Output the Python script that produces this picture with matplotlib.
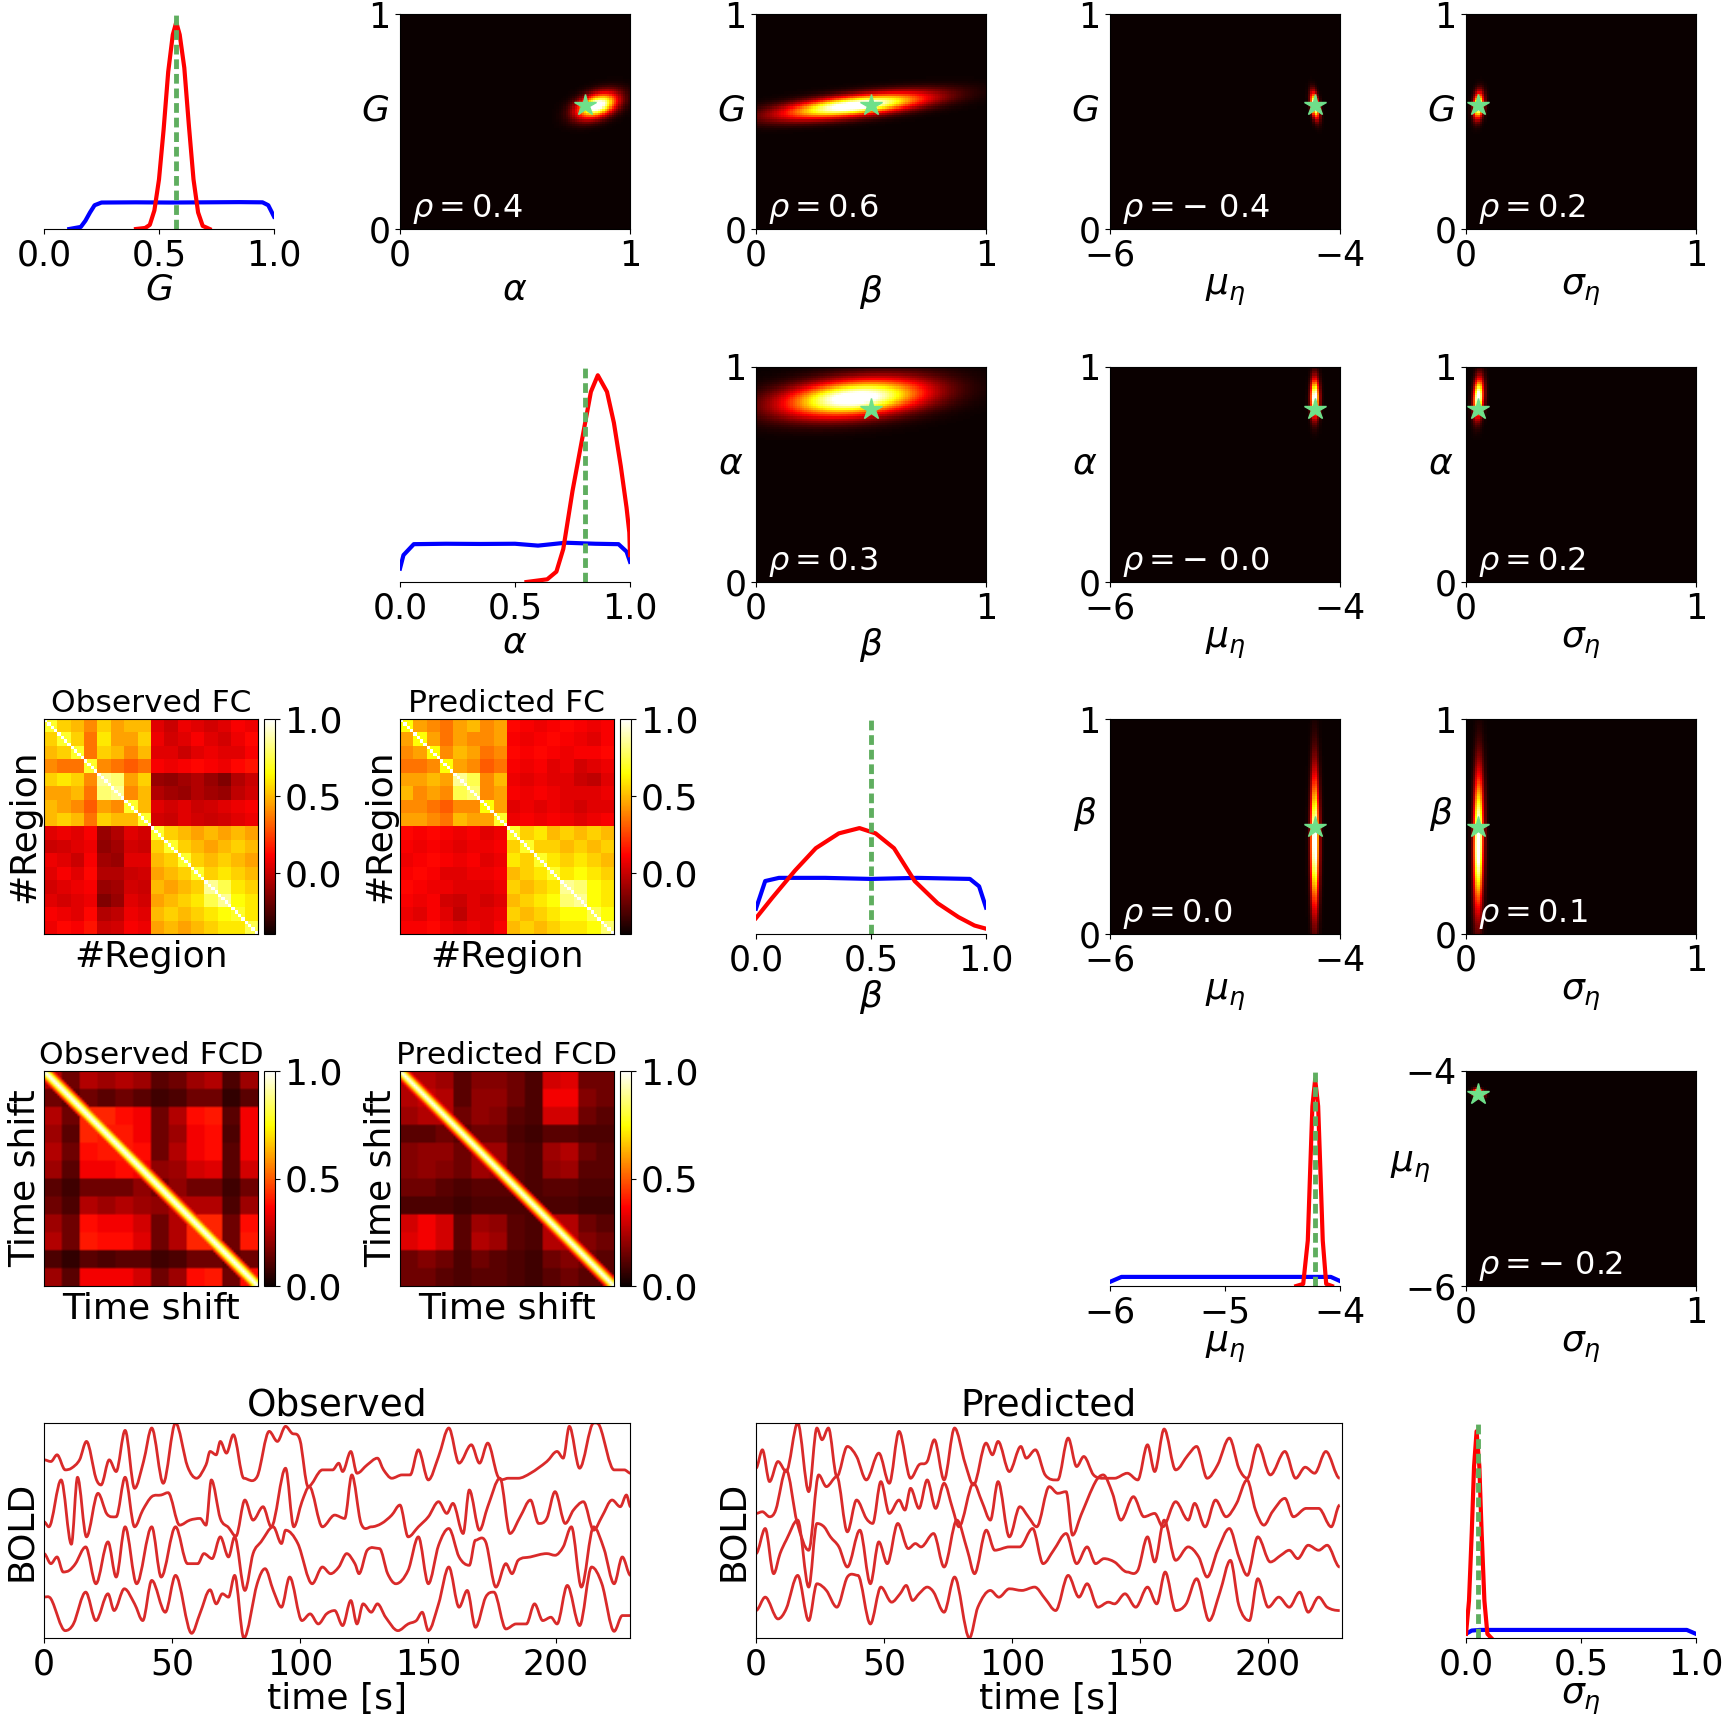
import numpy as np
import matplotlib
matplotlib.use('Agg')
import matplotlib.pyplot as plt
from matplotlib.path import Path
from matplotlib.patches import PathPatch
from matplotlib.ticker import FormatStrFormatter

plt.rcParams['font.family'] = ['DejaVu Sans']
plt.rcParams['mathtext.fontset'] = 'dejavusans'

# parameters of the model
tex = ['$G$', r'$\alpha$', r'$\beta$', r'$\mu_\eta$', r'$\sigma_\eta$']
lims = [(0, 1), (0, 1), (0, 1), (-6, -4), (0, 1)]
true_vals = [0.575, 0.805, 0.50, -4.215, 0.05]

# posterior blob centre / spread
post_mean = [0.575, 0.86, 0.43, -4.21, 0.05]
post_sd = [0.04, 0.06, 0.21, 0.025, 0.015]

# correlation printed in each joint panel (row param, col param, rho)
rho_pairs = [(0, 1, 0.4), (0, 2, 0.6), (0, 3, -0.4), (0, 4, 0.2),
             (1, 2, 0.3), (1, 3, -0.0), (1, 4, 0.2),
             (2, 3, 0.0), (2, 4, 0.1),
             (3, 4, -0.2)]

# marginal densities (posterior red, prior blue), heights relative to posterior peak
g_post_x = [0.40, 0.44, 0.46, 0.48, 0.50, 0.52, 0.54, 0.56, 0.575, 0.59, 0.61, 0.63, 0.65, 0.67, 0.69, 0.72]
g_post_y = [0, 0.5, 2, 9, 24, 48, 76, 94, 100, 94, 78, 50, 24, 8, 1.5, 0]
g_prior_x = [0.11, 0.16, 0.18, 0.20, 0.22, 0.25, 0.40, 0.55, 0.70, 0.85, 0.95, 0.975, 1.0]
g_prior_y = [0, 1, 4, 8, 11.5, 12.8, 12.9, 12.8, 12.9, 13.0, 12.9, 11.5, 6]

a_post_x = [0.55, 0.64, 0.68, 0.71, 0.75, 0.80, 0.83, 0.86, 0.90, 0.93, 0.96, 0.985, 0.997, 1.0]
a_post_y = [0, 1.3, 5, 16, 44, 74, 92, 100, 92, 77, 56, 36, 24, 13]
a_prior_x = [0.0, 0.015, 0.06, 0.2, 0.35, 0.5, 0.6, 0.72, 0.85, 0.95, 0.985, 1.0]
a_prior_y = [6.5, 13, 18.3, 18.5, 18.4, 18.5, 17.6, 19, 18.5, 18.3, 14.7, 9.8]

b_post_x = [0.0, 0.07, 0.17, 0.26, 0.36, 0.45, 0.52, 0.60, 0.69, 0.79, 0.88, 0.95, 1.0]
b_post_y = [15, 34, 60, 81, 95, 100, 95, 81, 50, 29, 16, 8, 5]
b_prior_x = [0.0, 0.04, 0.10, 0.3, 0.5, 0.7, 0.93, 0.97, 1.0]
b_prior_y = [24, 50, 53, 53, 52, 53, 52, 45, 25]

m_post_x = [-4.38, -4.32, -4.28, -4.26, -4.24, -4.216, -4.19, -4.17, -4.15, -4.12, -4.07]
m_post_y = [0, 1, 22, 55, 87, 100, 87, 55, 22, 1, 0]
m_prior_x = [-6.0, -5.9, -5.5, -5.0, -4.5, -4.08, -4.0]
m_prior_y = [2, 4.4, 4.4, 4.4, 4.4, 4.4, 2.4]

s_post_x = [0.0, 0.013, 0.025, 0.035, 0.046, 0.058, 0.068, 0.08, 0.093, 0.11]
s_post_y = [2, 18, 51, 83, 100, 83, 51, 18, 2, 0]
s_prior_x = [0.0, 0.025, 0.06, 0.3, 0.6, 0.96, 1.0]
s_prior_y = [2, 3.6, 3.9, 3.9, 3.9, 3.9, 2]

marg_top = [104, 104, 203, 104, 104]
marg_ticks = [[0, 0.5, 1], [0, 0.5, 1], [0, 0.5, 1], [-6, -5, -4], [0, 0.5, 1]]

# functional connectivity, 16 coarse blocks (8 per hemisphere)
fc_obs_lh = [[0.70, 0.55, 0.50, 0.40, 0.55, 0.45, 0.50, 0.50],
             [0.55, 0.70, 0.55, 0.35, 0.60, 0.45, 0.45, 0.55],
             [0.50, 0.55, 0.70, 0.35, 0.55, 0.50, 0.40, 0.50],
             [0.40, 0.35, 0.35, 0.70, 0.40, 0.35, 0.30, 0.35],
             [0.55, 0.60, 0.55, 0.40, 0.85, 0.80, 0.45, 0.55],
             [0.45, 0.45, 0.50, 0.35, 0.80, 0.85, 0.40, 0.50],
             [0.50, 0.45, 0.40, 0.30, 0.45, 0.40, 0.70, 0.50],
             [0.50, 0.55, 0.50, 0.35, 0.55, 0.50, 0.50, 0.70]]
fc_obs_inter = [[0.05, 0.00, 0.08, 0.05, 0.02, 0.05, 0.10, 0.08],
                [0.08, 0.02, 0.05, 0.10, 0.05, 0.02, 0.08, 0.12],
                [0.05, 0.05, 0.00, 0.05, 0.08, 0.05, 0.05, 0.10],
                [0.10, 0.08, 0.10, 0.12, 0.10, 0.08, 0.12, 0.15],
                [-0.10, -0.12, -0.08, -0.05, -0.10, -0.15, -0.05, 0.00],
                [-0.05, -0.08, -0.10, -0.05, -0.08, -0.10, -0.02, 0.02],
                [0.05, 0.02, 0.05, 0.00, 0.02, 0.05, 0.08, 0.10],
                [0.02, 0.00, 0.05, 0.02, 0.00, 0.02, 0.05, 0.08]]
fc_obs_rh = [[0.70, 0.55, 0.50, 0.45, 0.50, 0.45, 0.50, 0.45],
             [0.55, 0.70, 0.55, 0.50, 0.45, 0.50, 0.55, 0.50],
             [0.50, 0.55, 0.70, 0.55, 0.50, 0.55, 0.50, 0.45],
             [0.45, 0.50, 0.55, 0.70, 0.55, 0.60, 0.55, 0.50],
             [0.50, 0.45, 0.50, 0.55, 0.85, 0.75, 0.60, 0.55],
             [0.45, 0.50, 0.55, 0.60, 0.75, 0.85, 0.65, 0.60],
             [0.50, 0.55, 0.50, 0.55, 0.60, 0.65, 0.70, 0.60],
             [0.45, 0.50, 0.45, 0.50, 0.55, 0.60, 0.60, 0.75]]

fc_pred_lh = [[0.65, 0.45, 0.40, 0.35, 0.45, 0.50, 0.40, 0.45],
              [0.45, 0.65, 0.45, 0.35, 0.45, 0.40, 0.40, 0.45],
              [0.40, 0.45, 0.65, 0.40, 0.50, 0.45, 0.35, 0.40],
              [0.35, 0.35, 0.40, 0.65, 0.45, 0.40, 0.30, 0.35],
              [0.45, 0.45, 0.50, 0.45, 0.85, 0.75, 0.40, 0.50],
              [0.50, 0.40, 0.45, 0.40, 0.75, 0.80, 0.40, 0.45],
              [0.40, 0.40, 0.35, 0.30, 0.40, 0.40, 0.65, 0.45],
              [0.45, 0.45, 0.40, 0.35, 0.50, 0.45, 0.45, 0.70]]
fc_pred_inter = [[0.12, 0.10, 0.08, 0.10, 0.12, 0.10, 0.08, 0.10],
                 [0.10, 0.08, 0.10, 0.12, 0.10, 0.08, 0.05, 0.10],
                 [0.12, 0.10, 0.12, 0.10, 0.08, 0.10, 0.10, 0.12],
                 [0.10, 0.08, 0.10, 0.05, 0.08, 0.02, 0.05, 0.08],
                 [0.08, 0.05, 0.08, 0.05, 0.05, 0.00, -0.02, 0.05],
                 [0.10, 0.08, 0.10, 0.08, 0.05, 0.05, 0.05, 0.08],
                 [0.05, 0.08, 0.05, 0.08, 0.05, 0.02, 0.05, 0.05],
                 [0.08, 0.10, 0.08, 0.10, 0.08, 0.05, 0.08, 0.10]]
fc_pred_rh = [[0.70, 0.55, 0.60, 0.50, 0.55, 0.50, 0.55, 0.50],
              [0.55, 0.70, 0.55, 0.55, 0.50, 0.55, 0.50, 0.55],
              [0.60, 0.55, 0.70, 0.60, 0.55, 0.60, 0.55, 0.50],
              [0.50, 0.55, 0.60, 0.70, 0.60, 0.65, 0.60, 0.55],
              [0.55, 0.50, 0.55, 0.60, 0.85, 0.80, 0.65, 0.60],
              [0.50, 0.55, 0.60, 0.65, 0.80, 0.85, 0.65, 0.60],
              [0.55, 0.50, 0.55, 0.60, 0.65, 0.65, 0.75, 0.65],
              [0.50, 0.55, 0.50, 0.55, 0.60, 0.60, 0.65, 0.80]]

# functional connectivity dynamics, 12 coarse windows (off-diagonal level)
fcd_obs_coarse = [[0.25, 0.15, 0.25, 0.22, 0.25, 0.22, 0.12, 0.15, 0.22, 0.25, 0.10, 0.22],
                  [0.15, 0.12, 0.15, 0.12, 0.15, 0.12, 0.08, 0.10, 0.15, 0.15, 0.06, 0.12],
                  [0.25, 0.15, 0.42, 0.42, 0.38, 0.35, 0.15, 0.25, 0.38, 0.40, 0.12, 0.35],
                  [0.22, 0.12, 0.42, 0.40, 0.40, 0.35, 0.15, 0.22, 0.35, 0.38, 0.10, 0.35],
                  [0.25, 0.15, 0.38, 0.40, 0.40, 0.38, 0.15, 0.25, 0.35, 0.38, 0.12, 0.35],
                  [0.22, 0.12, 0.35, 0.35, 0.38, 0.35, 0.20, 0.22, 0.30, 0.32, 0.12, 0.30],
                  [0.12, 0.08, 0.15, 0.15, 0.15, 0.20, 0.15, 0.20, 0.15, 0.15, 0.08, 0.15],
                  [0.15, 0.10, 0.25, 0.22, 0.25, 0.22, 0.20, 0.25, 0.25, 0.25, 0.10, 0.22],
                  [0.22, 0.15, 0.38, 0.35, 0.35, 0.30, 0.15, 0.25, 0.42, 0.42, 0.15, 0.38],
                  [0.25, 0.15, 0.40, 0.38, 0.38, 0.32, 0.15, 0.25, 0.42, 0.42, 0.15, 0.40],
                  [0.10, 0.06, 0.12, 0.10, 0.12, 0.12, 0.08, 0.10, 0.15, 0.15, 0.12, 0.15],
                  [0.22, 0.12, 0.35, 0.35, 0.35, 0.30, 0.15, 0.22, 0.38, 0.40, 0.15, 0.38]]
fcd_pred_coarse = [[0.25, 0.25, 0.22, 0.12, 0.18, 0.18, 0.15, 0.10, 0.30, 0.32, 0.15, 0.15],
                   [0.25, 0.28, 0.25, 0.12, 0.20, 0.20, 0.15, 0.10, 0.35, 0.35, 0.18, 0.15],
                   [0.22, 0.25, 0.25, 0.15, 0.20, 0.18, 0.12, 0.10, 0.30, 0.30, 0.15, 0.12],
                   [0.12, 0.12, 0.15, 0.12, 0.15, 0.15, 0.10, 0.08, 0.12, 0.12, 0.10, 0.10],
                   [0.18, 0.20, 0.20, 0.15, 0.22, 0.22, 0.12, 0.10, 0.22, 0.25, 0.15, 0.12],
                   [0.18, 0.20, 0.18, 0.15, 0.22, 0.20, 0.12, 0.10, 0.20, 0.22, 0.12, 0.12],
                   [0.15, 0.15, 0.12, 0.10, 0.12, 0.12, 0.12, 0.10, 0.12, 0.12, 0.10, 0.10],
                   [0.10, 0.10, 0.10, 0.08, 0.10, 0.10, 0.10, 0.10, 0.10, 0.10, 0.08, 0.08],
                   [0.30, 0.35, 0.30, 0.12, 0.22, 0.20, 0.12, 0.10, 0.25, 0.25, 0.15, 0.12],
                   [0.32, 0.35, 0.30, 0.12, 0.25, 0.22, 0.12, 0.10, 0.25, 0.25, 0.18, 0.15],
                   [0.15, 0.18, 0.15, 0.10, 0.15, 0.12, 0.10, 0.08, 0.15, 0.18, 0.15, 0.12],
                   [0.15, 0.15, 0.12, 0.10, 0.12, 0.12, 0.10, 0.08, 0.12, 0.15, 0.12, 0.12]]
# FCD value against window lag (0, 1, 2, ...)
fcd_obs_band = [1.0, 0.9, 0.75, 0.55, 0.4]
fcd_pred_band = [1.0, 0.88, 0.7, 0.5, 0.35]

# BOLD traces (time in s, signal in arbitrary units), peaks and troughs
obs_t1 = [0, 2.7, 5.1, 8.3, 10.7, 13.9, 16.6, 20.3, 22.3, 25.5, 28.2, 31.7, 35.4, 38.9, 42.1, 46.6, 51.4, 56.1, 59.6, 63.3, 64.9, 67.3, 68.9, 71.3, 74.0, 78.1, 83.3, 88.0, 91.2, 94.4, 96.8, 100.0, 103.2, 108.8, 112.8, 115.2, 116.7, 119.9, 122.3, 126.3, 130.3, 132.7, 135.9, 139.9, 143.1, 146.3, 150.2, 154.2, 158.2, 162.2, 167.0, 170.2, 173.4, 177.4, 181.3, 185.3, 190.1, 196.5, 200.5, 202.9, 205.3, 209.3, 214.8, 217.2, 222.8, 226.8, 229.2]
obs_y1 = [532, 527, 547, 502, 507, 532, 587, 477, 457, 532, 497, 620, 447, 527, 627, 462, 642, 512, 477, 517, 557, 547, 587, 552, 607, 477, 482, 617, 587, 632, 612, 592, 452, 502, 502, 522, 497, 557, 492, 517, 537, 502, 477, 487, 487, 562, 472, 542, 627, 522, 577, 522, 582, 482, 477, 477, 492, 527, 557, 537, 632, 507, 642, 632, 502, 502, 492]
obs_t2 = [0, 1.9, 6.7, 10.7, 13.1, 16.6, 21.1, 24.6, 28.2, 31.7, 35.4, 38.6, 42.1, 45.8, 48.5, 53.0, 57.0, 61.0, 63.3, 65.4, 68.9, 72.1, 75.0, 78.5, 81.7, 85.6, 88.8, 94.4, 97.6, 100.8, 103.7, 108.8, 113.6, 117.5, 120.3, 123.9, 127.9, 131.9, 135.9, 139.1, 142.3, 146.3, 150.2, 154.2, 157.4, 159.8, 163.8, 166.2, 170.2, 173.4, 178.2, 182.1, 186.1, 190.1, 193.3, 196.5, 199.7, 203.7, 206.9, 210.8, 214.8, 218.0, 222.0, 225.2, 227.6, 229.2]
obs_y2 = [347, 332, 472, 280, 480, 302, 432, 370, 362, 480, 332, 382, 422, 427, 434, 337, 352, 357, 337, 472, 357, 330, 304, 412, 352, 392, 332, 507, 332, 407, 452, 332, 367, 357, 487, 342, 332, 342, 367, 397, 302, 332, 362, 407, 372, 402, 312, 442, 322, 392, 477, 312, 362, 412, 342, 357, 437, 342, 382, 407, 322, 362, 412, 392, 427, 392]
obs_t3 = [0, 2.7, 5.1, 7.5, 9.9, 12.3, 16.3, 20.3, 25.0, 28.2, 31.7, 36.2, 42.1, 45.8, 51.4, 56.1, 60.1, 62.5, 65.7, 68.9, 72.1, 74.5, 78.5, 81.7, 84.8, 89.6, 92.8, 94.4, 99.2, 104.8, 108.8, 112.0, 115.2, 118.3, 121.5, 123.1, 126.3, 131.1, 134.3, 137.5, 142.3, 146.3, 150.2, 154.2, 158.2, 162.2, 166.2, 168.6, 172.6, 176.6, 180.5, 182.9, 185.3, 190.1, 196.5, 199.7, 202.9, 206.1, 210.0, 214.8, 218.8, 222.8, 226.0, 229.2]
obs_y3 = [252, 222, 242, 197, 202, 222, 272, 162, 287, 182, 332, 162, 332, 182, 332, 222, 222, 252, 237, 302, 242, 302, 142, 252, 287, 332, 282, 322, 282, 162, 212, 192, 212, 252, 222, 192, 262, 267, 192, 162, 202, 302, 162, 277, 327, 242, 217, 292, 287, 152, 222, 192, 232, 242, 252, 247, 272, 332, 152, 332, 267, 162, 242, 187]
obs_t4 = [0, 2.7, 8.3, 11.5, 16.3, 20.3, 25.0, 27.4, 31.4, 35.4, 38.6, 42.1, 47.4, 51.4, 57.7, 60.9, 64.9, 67.3, 69.7, 72.1, 74.5, 78.1, 83.3, 86.4, 89.6, 92.8, 96.0, 100.8, 104.0, 107.2, 110.4, 113.6, 116.7, 119.9, 122.3, 124.7, 127.9, 130.3, 133.5, 138.3, 142.3, 145.5, 147.8, 150.2, 154.2, 158.2, 162.2, 165.4, 168.6, 172.6, 175.8, 180.5, 184.5, 188.5, 191.7, 194.9, 198.1, 200.5, 204.5, 209.3, 214.0, 218.0, 222.8, 226.0, 229.2]
obs_y4 = [122, 117, 22, 42, 137, 52, 132, 82, 147, 102, 52, 172, 77, 187, 14, 72, 144, 102, 132, 122, 187, 0, 162, 207, 142, 92, 182, 52, 72, 42, 72, 82, 37, 112, 42, 102, 77, 102, 62, 22, 42, 52, 77, 22, 102, 212, 92, 142, 32, 122, 137, 27, 42, 42, 102, 52, 62, 42, 157, 37, 212, 162, 20, 67, 67]

pred_t1 = [0, 2.5, 5.3, 8.6, 11.8, 16.3, 20.6, 23.8, 25.8, 28.3, 31.6, 35.7, 39.3, 43.1, 48.0, 52.1, 55.9, 60.4, 63.7, 66.9, 69.7, 73.5, 77.6, 81.7, 85.0, 89.9, 92.4, 94.6, 99.0, 103.5, 105.6, 109.2, 113.0, 117.9, 122.0, 125.3, 128.1, 131.9, 136.0, 140.1, 145.1, 149.2, 153.0, 155.8, 159.5, 164.0, 168.9, 172.2, 176.3, 180.4, 185.0, 188.7, 192.0, 196.1, 201.0, 206.7, 210.9, 214.6, 218.3, 222.7, 228.1]
pred_y1 = [507, 562, 467, 527, 497, 642, 437, 627, 592, 627, 482, 572, 542, 472, 552, 462, 617, 477, 517, 527, 592, 472, 627, 522, 457, 582, 547, 587, 497, 572, 537, 562, 487, 472, 597, 512, 542, 487, 477, 477, 492, 472, 577, 497, 624, 502, 547, 572, 477, 517, 597, 507, 477, 577, 487, 557, 477, 510, 492, 557, 477]
pred_t2 = [0, 2.5, 5.3, 7.7, 11.8, 16.0, 20.6, 24.5, 27.5, 31.6, 35.7, 39.3, 43.1, 45.6, 48.8, 52.1, 55.9, 58.2, 60.4, 63.7, 66.9, 70.2, 73.5, 76.8, 79.3, 85.0, 88.3, 91.6, 94.6, 99.0, 103.1, 106.4, 109.7, 114.6, 117.9, 121.2, 123.7, 127.0, 132.7, 135.7, 139.3, 142.6, 147.5, 151.6, 155.8, 159.0, 164.0, 168.9, 171.4, 175.5, 179.6, 183.7, 187.8, 191.9, 195.2, 198.5, 201.8, 206.7, 210.0, 215.0, 219.9, 224.8, 228.1]
pred_y2 = [372, 377, 362, 382, 502, 347, 262, 487, 452, 482, 317, 412, 357, 342, 467, 372, 412, 382, 447, 387, 472, 387, 462, 387, 332, 462, 407, 352, 467, 302, 392, 362, 332, 452, 432, 437, 307, 367, 467, 487, 432, 352, 422, 362, 372, 332, 407, 352, 402, 332, 412, 362, 402, 472, 382, 337, 377, 417, 362, 387, 387, 332, 397]
pred_t3 = [0, 3.6, 6.9, 9.4, 11.8, 16.3, 20.6, 23.8, 26.6, 29.1, 32.4, 35.7, 40.6, 44.7, 48.0, 51.3, 55.4, 59.5, 62.3, 64.5, 69.4, 73.5, 78.5, 82.6, 85.4, 90.0, 93.3, 99.0, 103.1, 108.1, 112.2, 116.3, 121.2, 125.3, 129.4, 132.7, 136.0, 140.1, 145.1, 149.2, 153.0, 155.8, 159.5, 164.0, 168.9, 173.0, 176.3, 180.4, 185.0, 188.7, 192.0, 196.1, 201.0, 205.1, 208.4, 211.7, 215.8, 219.9, 223.2, 228.1]
pred_y3 = [252, 327, 192, 252, 292, 352, 152, 342, 332, 302, 272, 212, 322, 162, 287, 222, 342, 267, 282, 272, 312, 212, 352, 262, 192, 322, 262, 272, 272, 327, 222, 262, 312, 222, 272, 222, 237, 227, 197, 202, 302, 227, 352, 232, 272, 242, 182, 262, 327, 242, 187, 302, 227, 247, 262, 237, 277, 262, 277, 212]
pred_t4 = [0, 3.6, 8.6, 11.8, 16.3, 20.6, 23.8, 27.5, 31.6, 35.7, 39.8, 44.7, 48.8, 53.0, 56.3, 58.7, 61.2, 63.7, 66.9, 69.4, 73.5, 77.6, 83.4, 86.7, 91.6, 94.9, 99.0, 103.9, 108.9, 113.0, 117.1, 122.0, 126.2, 129.4, 133.6, 137.7, 140.1, 144.2, 148.4, 153.0, 156.6, 159.9, 164.0, 168.1, 172.2, 177.1, 181.3, 185.4, 188.7, 192.8, 196.1, 200.2, 204.3, 208.4, 212.5, 215.8, 219.9, 223.2, 228.1]
pred_y4 = [82, 122, 57, 87, 187, 52, 162, 142, 92, 182, 187, 42, 152, 107, 132, 157, 112, 132, 152, 137, 77, 182, 0, 92, 142, 122, 147, 142, 152, 117, 82, 187, 122, 162, 92, 107, 102, 132, 92, 152, 102, 197, 82, 102, 177, 52, 137, 232, 97, 52, 177, 92, 122, 92, 137, 77, 122, 92, 82]

# ---------------------------------------------------------------
W, H = 1725, 1727
fig = plt.figure(figsize=(W / 100, H / 100), dpi=100)
col_x = [44, 400, 756, 1110, 1466]
row_y = [14, 367, 719, 1071, 1423]
AW, AH = 230, 215
FS = 25      # tick labels
LFS = 26     # axis labels
TRUE_C = '#5fae5f'
STAR_C = '#6fe08a'


def add_ax(x, y, w, h):
    return fig.add_axes([x / W, 1 - (y + h) / H, w / W, h / H])


post_x = [g_post_x, a_post_x, b_post_x, m_post_x, s_post_x]
post_y = [g_post_y, a_post_y, b_post_y, m_post_y, s_post_y]
prior_x = [g_prior_x, a_prior_x, b_prior_x, m_prior_x, s_prior_x]
prior_y = [g_prior_y, a_prior_y, b_prior_y, m_prior_y, s_prior_y]

# diagonal: marginals
for k in range(5):
    ax = add_ax(col_x[k], row_y[k], AW, AH)
    ax.plot(prior_x[k], prior_y[k], color='blue', lw=3)
    ax.plot(post_x[k], post_y[k], color='red', lw=3)
    ax.axvline(true_vals[k], color=TRUE_C, ls='--', dashes=(2, 1), lw=3.5)
    ax.set_xlim(lims[k])
    ax.set_ylim(0, marg_top[k])
    ax.set_yticks([])
    for s in ['left', 'top', 'right']:
        ax.spines[s].set_visible(False)
    ax.set_xticks(marg_ticks[k])
    ax.tick_params(labelsize=FS)
    ax.set_xlabel(tex[k], fontsize=LFS, labelpad=0)

# upper triangle: joint posteriors
for i, j, r in rho_pairs:
    ax = add_ax(col_x[j], row_y[i], AW, AH)
    xs = np.linspace(lims[j][0], lims[j][1], 100)
    ys = np.linspace(lims[i][0], lims[i][1], 100)
    X, Y = np.meshgrid(xs, ys)
    zx = (X - post_mean[j]) / post_sd[j]
    zy = (Y - post_mean[i]) / post_sd[i]
    Z = np.exp(-0.5 * (zx ** 2 - 2 * r * zx * zy + zy ** 2) / (1 - r ** 2))
    ax.imshow(Z, origin='lower', cmap='hot', vmin=0, vmax=0.9, aspect='auto',
              extent=[lims[j][0], lims[j][1], lims[i][0], lims[i][1]],
              interpolation='nearest')
    ax.plot(true_vals[j], true_vals[i], marker='*', ms=16, color=STAR_C, mec=STAR_C)
    ax.set_xlim(lims[j])
    ax.set_ylim(lims[i])
    ax.set_xticks(lims[j])
    ax.set_yticks(lims[i])
    ax.tick_params(labelsize=FS)
    ax.set_xlabel(tex[j], fontsize=LFS, labelpad=0)
    ax.set_ylabel(tex[i], fontsize=LFS, rotation=0)
    ax.yaxis.set_label_coords(-0.24 if i == 3 else -0.11, 0.47)
    sign = r'-\ ' if np.signbit(r) else ''
    ax.text(0.05, 0.015, r'$\rho = ' + sign + '%.1f$' % abs(r), transform=ax.transAxes,
            color='white', fontsize=23, va='bottom', ha='left')


def matrix_panel(x, y, mat, vmin, title, label, interp):
    ax = add_ax(x, y, 214, AH)
    cax = add_ax(x + 220, y, 11, AH)
    im = ax.imshow(mat, cmap='hot', vmin=vmin, vmax=1, interpolation=interp, aspect='auto')
    ax.set_xticks([])
    ax.set_yticks([])
    ax.set_title(title, fontsize=22.5, pad=5)
    ax.set_xlabel(label, fontsize=LFS, labelpad=4)
    ax.set_ylabel(label, fontsize=LFS, labelpad=2)
    cb = fig.colorbar(im, cax=cax, ticks=[0, 0.5, 1])
    cb.ax.tick_params(labelsize=26)
    cb.ax.yaxis.set_major_formatter(FormatStrFormatter('%.1f'))


def build_fc(lh, inter, rh):
    coarse = np.block([[np.array(lh), np.array(inter)],
                       [np.array(inter).T, np.array(rh)]])
    m = np.kron(coarse, np.ones((4, 4)))
    np.fill_diagonal(m, 1.0)
    return m


def build_fcd(coarse, band):
    m = np.kron(np.array(coarse), np.ones((8, 8)))
    n = len(m)
    for lag, v in enumerate(band):
        idx = np.arange(n - lag)
        m[idx, idx + lag] = np.maximum(m[idx, idx + lag], v)
        m[idx + lag, idx] = np.maximum(m[idx + lag, idx], v)
    return m


matrix_panel(col_x[0], row_y[2], build_fc(fc_obs_lh, fc_obs_inter, fc_obs_rh),
             -0.4, 'Observed FC', '#Region', 'nearest')
matrix_panel(col_x[1], row_y[2], build_fc(fc_pred_lh, fc_pred_inter, fc_pred_rh),
             -0.4, 'Predicted FC', '#Region', 'nearest')
matrix_panel(col_x[0], row_y[3], build_fcd(fcd_obs_coarse, fcd_obs_band),
             0.0, 'Observed FCD', 'Time shift', 'bilinear')
matrix_panel(col_x[1], row_y[3], build_fcd(fcd_pred_coarse, fcd_pred_band),
             0.0, 'Predicted FCD', 'Time shift', 'bilinear')


def smooth_trace(t, v):
    # cubic Bezier segments through the read peaks/troughs, flat at each extremum
    t = np.asarray(t, float)
    v = np.asarray(v, float)
    n = len(t)
    slope = np.zeros(n)
    for k in range(1, n - 1):
        if (v[k] - v[k - 1]) * (v[k + 1] - v[k]) > 0:
            slope[k] = (v[k + 1] - v[k - 1]) / (t[k + 1] - t[k - 1])
    verts = [(t[0], v[0])]
    codes = [Path.MOVETO]
    for k in range(n - 1):
        h = (t[k + 1] - t[k]) / 3
        verts += [(t[k] + h, v[k] + slope[k] * h),
                  (t[k + 1] - h, v[k + 1] - slope[k + 1] * h),
                  (t[k + 1], v[k + 1])]
        codes += [Path.CURVE4] * 3
    return Path(verts, codes)


# BOLD time series
bold_sets = [('Observed', col_x[0], [(obs_t1, obs_y1), (obs_t2, obs_y2), (obs_t3, obs_y3), (obs_t4, obs_y4)]),
             ('Predicted', col_x[2], [(pred_t1, pred_y1), (pred_t2, pred_y2), (pred_t3, pred_y3), (pred_t4, pred_y4)])]
for title, x0, traces in bold_sets:
    ax = add_ax(x0, row_y[4], col_x[1] + AW - col_x[0], AH)
    for t, v in traces:
        ax.add_patch(PathPatch(smooth_trace(t, v), facecolor='none',
                               edgecolor='#d92a2a', lw=2.0, joinstyle='round'))
    ax.set_xlim(0, 229)
    ax.set_ylim(0, 642)
    ax.set_yticks([])
    ax.set_xticks([0, 50, 100, 150, 200])
    ax.tick_params(labelsize=FS)
    ax.set_title(title, fontsize=27, pad=5)
    ax.set_xlabel('time [s]', fontsize=LFS, labelpad=0)
    ax.set_ylabel('BOLD', fontsize=LFS, labelpad=4)

fig.savefig('out.png', dpi=100)
